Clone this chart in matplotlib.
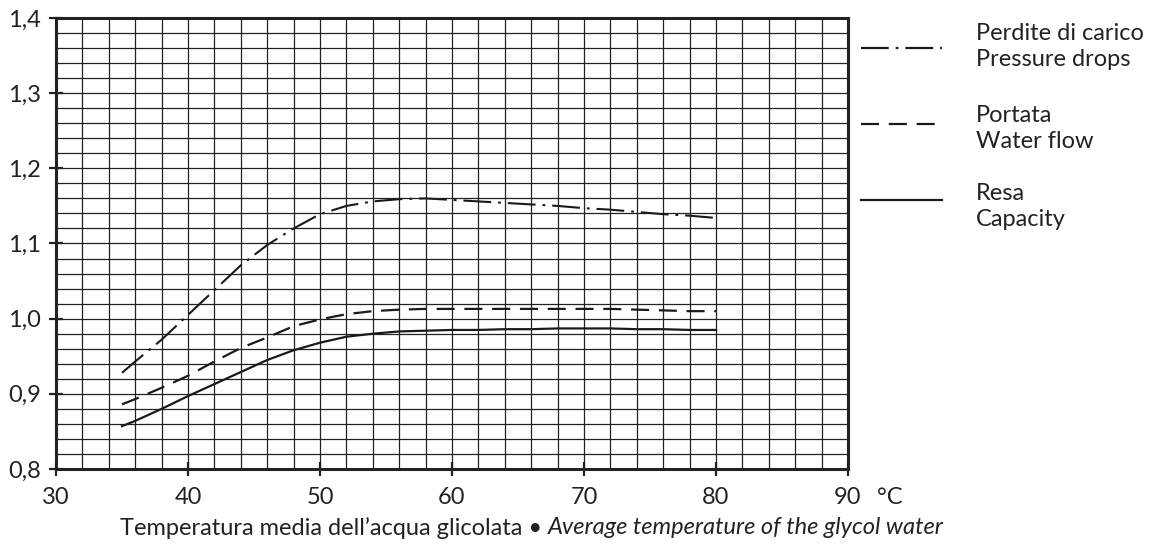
import matplotlib
matplotlib.use("Agg")
import matplotlib.pyplot as plt
from matplotlib.lines import Line2D
import numpy as np

plt.rcParams['font.family'] = ['Lato', 'DejaVu Sans']
plt.rcParams['lines.scale_dashes'] = False

# Data
temps = [35, 36, 38, 40, 42, 44, 46, 48, 50, 52, 54, 56, 58, 60, 62, 64, 66, 68, 70, 72, 74, 76, 78, 80]
pressure_drops = [0.928, 0.943, 0.972, 1.005, 1.038, 1.071, 1.098, 1.120, 1.139, 1.150, 1.156, 1.159, 1.160,
                  1.158, 1.156, 1.154, 1.152, 1.150, 1.147, 1.145, 1.142, 1.139, 1.137, 1.134]
water_flow = [0.886, 0.893, 0.908, 0.924, 0.943, 0.961, 0.975, 0.990, 0.999, 1.006, 1.010, 1.012, 1.013,
              1.013, 1.013, 1.013, 1.013, 1.013, 1.013, 1.013, 1.012, 1.011, 1.010, 1.010]
capacity = [0.857, 0.864, 0.880, 0.897, 0.913, 0.929, 0.945, 0.958, 0.968, 0.976, 0.980, 0.983, 0.984,
            0.985, 0.985, 0.986, 0.986, 0.987, 0.987, 0.987, 0.986, 0.986, 0.985, 0.985]

x_ticks = [30, 40, 50, 60, 70, 80, 90]
x_ticklabels = ['30', '40', '50', '60', '70', '80', '90']
x_unit = '°C'
y_ticks = [0.8, 0.9, 1.0, 1.1, 1.2, 1.3, 1.4]
y_ticklabels = ['0,8', '0,9', '1,0', '1,1', '1,2', '1,3', '1,4']
xlabel_it = 'Temperatura media dell\u2019acqua glicolata \u2022 '
xlabel_en = 'Average temperature of the glycol water'

series_labels = [('Perdite di carico', 'Pressure drops'),
                 ('Portata', 'Water flow'),
                 ('Resa', 'Capacity')]

W, H = 1156, 544
fig = plt.figure(figsize=(W/100, H/100), dpi=100)
ax = fig.add_axes([56/W, 1 - 469/H, (848-56)/W, (469-18)/H])

ax.set_xlim(30, 90)
ax.set_ylim(0.8, 1.4)

# grid
for xv in np.arange(32, 90, 2):
    ax.axvline(xv, color='#222222', lw=0.9, zorder=1)
for yv in np.arange(0.82, 1.395, 0.02):
    ax.axhline(yv, color='#222222', lw=0.9, zorder=1)

dashdot = (0, (20, 5, 2, 5))
dashed = (0, (13, 7))
ax.plot(temps, pressure_drops, color='#1a1a1a', lw=1.5, linestyle=dashdot, zorder=3)
ax.plot(temps, water_flow, color='#1a1a1a', lw=1.6, linestyle=dashed, zorder=3)
ax.plot(temps, capacity, color='#1a1a1a', lw=1.6, linestyle='-', zorder=3)

for s in ax.spines.values():
    s.set_linewidth(2.2)
    s.set_color('#222222')

ax.set_xticks(x_ticks)
ax.set_xticklabels(x_ticklabels)
ax.set_yticks(y_ticks)
ax.set_yticklabels(y_ticklabels)
ax.tick_params(direction='inout', length=10, width=1.6, labelsize=17, color='#222222',
               labelcolor='#222222')
ax.tick_params(axis='x', pad=8)
ax.tick_params(axis='y', pad=6)

fig.text(877/W, 1 - 498/H, x_unit, fontsize=17, va='center', ha='left', color='#222222')

t1 = fig.text(120/W, 1 - 528/H, xlabel_it, fontsize=17, va='center', ha='left', color='#222222')
fig.canvas.draw()
bb = t1.get_window_extent()
fig.text(bb.x1 / W, 1 - 528/H, xlabel_en,
         fontsize=17, va='center', ha='left', style='italic', color='#222222')

# legend
styles = [dashdot, dashed, '-']
line_y = [48, 124, 200]
text_y = [(33, 60), (116, 142), (193, 219)]
for st, ly, (ty1, ty2), (l1, l2) in zip(styles, line_y, text_y, series_labels):
    fig.add_artist(Line2D([861/W, 942/W], [1 - ly/H, 1 - ly/H],
                          color='#1a1a1a', lw=1.6, linestyle=st))
    fig.text(976/W, 1 - ty1/H, l1, fontsize=17, va='center', ha='left', color='#222222')
    fig.text(976/W, 1 - ty2/H, l2, fontsize=17, va='center', ha='left', color='#222222')

fig.savefig('out.png', dpi=100)
